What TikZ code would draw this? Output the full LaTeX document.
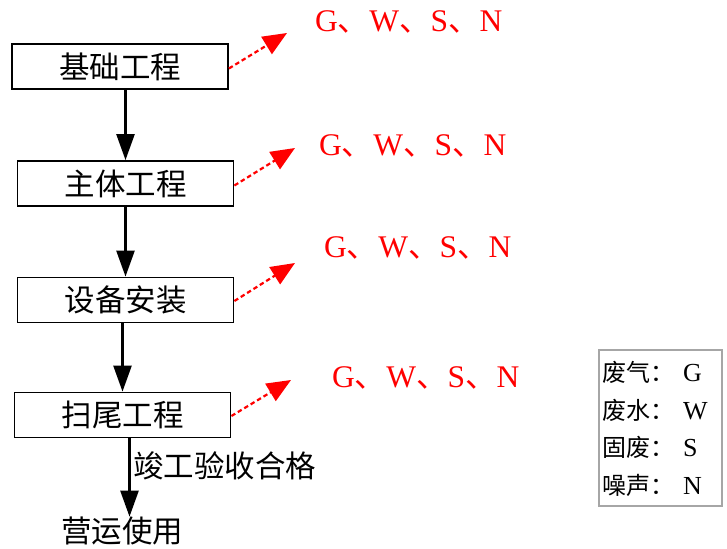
\documentclass[tikz,border=0pt]{standalone}
\usepackage{fontspec}
\setmainfont{Liberation Serif}
\newfontfamily\cjk{Noto Sans CJK SC}
\usetikzlibrary{arrows.meta}
\newcommand\dun{{\cjk 、}}
\newcommand\legcn[1]{{\cjk\fontsize{24}{24}\selectfont #1}\hspace{9pt}}
\begin{document}
\begin{tikzpicture}[x=1pt,y=-1pt,
  stepbox/.style={draw=black,line width=1.8pt,minimum width=216pt,minimum height=45pt,inner sep=0pt,font=\cjk\fontsize{30.5}{30.5}\selectfont},
  plain/.style={inner sep=0pt,font=\cjk\fontsize{30.5}{30.5}\selectfont},
  arr/.style={line width=2.4pt,-{Triangle[length=26pt,width=18pt]}},
  redarr/.style={red,line width=2.2pt,dash pattern=on 4.5pt off 3pt,-{Triangle[length=24pt,width=20pt]}},
  redlab/.style={red,inner sep=0pt,anchor=west,font=\fontsize{31.5}{31.5}\selectfont},
  leg/.style={inner sep=0pt,anchor=west,font=\fontsize{26}{26}\selectfont}]
\useasboundingbox (0,0) rectangle (727,548);
\node[stepbox] (b1) at (120,66.5) {基础工程};
\node[stepbox] (b2) at (125.5,183.5) {主体工程};
\node[stepbox] (b3) at (125.5,300) {设备安装};
\node[stepbox] (b4) at (122.5,415) {扫尾工程};
\node[plain] (end) at (122,531) {营运使用};
\node[plain,anchor=west] (lab) at (133,466) {竣工验收合格};
\coordinate (t1) at (287,33);
\coordinate (t2) at (295,148);
\coordinate (t3) at (295,263);
\coordinate (t4) at (291,380);
\draw[arr] (b2.north |- b1.south) -- (b2.north);
\draw[arr] (b2.south) -- (b3.north);
\draw[arr] (b4.north |- b3.south) -- (b4.north);
\draw[arr] (b4.south) ++(7,0) coordinate (s4) -- (s4 |- end.north);
\draw[redarr] (b1.east) ++(0,2) -- (t1);
\draw[redarr] (b2.east) ++(0,2) -- (t2);
\draw[redarr] (b3.east) ++(0,1) -- (t3);
\draw[redarr] (b4.east) ++(0,1) -- (t4);
\node[redlab] (r1) at (315,22) {G\dun W\dun S\dun N};
\node[redlab] (r2) at (319,146) {G\dun W\dun S\dun N};
\node[redlab] (r3) at (324,248) {G\dun W\dun S\dun N};
\node[redlab] (r4) at (332,378) {G\dun W\dun S\dun N};
\node[draw=gray!70,line width=1.5pt,minimum width=123pt,minimum height=156pt,inner sep=0pt] (legbox) at (660.5,428) {};
\node[leg] (l1) at (602,372) {\legcn{废气：}G};
\node[leg] (l2) at (602,410) {\legcn{废水：}W};
\node[leg] (l3) at (602,447) {\legcn{固废：}S};
\node[leg] (l4) at (602,485) {\legcn{噪声：}N};
\end{tikzpicture}
\end{document}
